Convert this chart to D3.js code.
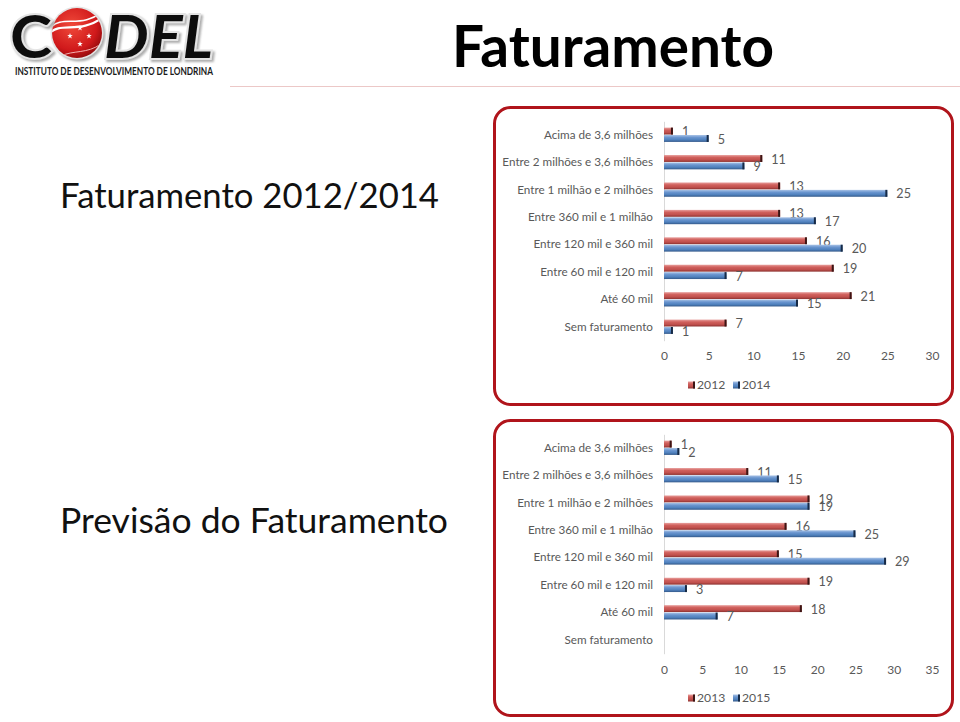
<!DOCTYPE html>
<html><head><meta charset="utf-8">
<script src="https://cdn.jsdelivr.net/npm/d3@7"></script>
<style>
html,body{margin:0;padding:0;background:#fff;}
svg{display:block;}
text{font-family:Lato,"Open Sans",sans-serif;}
</style></head>
<body>
<svg id="chart" width="960" height="722"></svg>
<script>
const categories = [
  "Acima de 3,6 milhões",
  "Entre 2 milhões e 3,6 milhões",
  "Entre 1 milhão e 2 milhões",
  "Entre 360 mil e 1 milhão",
  "Entre 120 mil e 360 mil",
  "Entre 60 mil e 120 mil",
  "Até 60 mil",
  "Sem faturamento"
];
const values2012 = [1, 11, 13, 13, 16, 19, 21, 7];
const values2014 = [5, 9, 25, 17, 20, 7, 15, 1];
const values2013 = [1, 11, 19, 16, 15, 19, 18, null];
const values2015 = [2, 15, 19, 25, 29, 3, 7, null];
const ticksTop = [0, 5, 10, 15, 20, 25, 30];
const ticksBottom = [0, 5, 10, 15, 20, 25, 30, 35];

const svg = d3.select("#chart");
const defs = svg.append("defs");

function grad(id, stops) {
  const g = defs.append("linearGradient").attr("id", id)
    .attr("x1", 0).attr("y1", 0).attr("x2", 0).attr("y2", 1);
  stops.forEach(s => g.append("stop").attr("offset", s[0]).attr("stop-color", s[1]));
}
grad("gRed", [[0, "#e8a09e"], [0.35, "#d0605c"], [0.7, "#c0504d"], [1, "#8c3230"]]);
grad("gBlue", [[0, "#a9c3e6"], [0.35, "#6a95cf"], [0.7, "#4f81bd"], [1, "#34598a"]]);
const rg = defs.append("radialGradient").attr("id", "gBall").attr("cx", 0.4).attr("cy", 0.35).attr("r", 0.7);
rg.append("stop").attr("offset", 0).attr("stop-color", "#f04a3a");
rg.append("stop").attr("offset", 0.7).attr("stop-color", "#d0191b");
rg.append("stop").attr("offset", 1).attr("stop-color", "#8e0a0c");
defs.append("clipPath").attr("id", "ballClip").append("circle").attr("cx", 77).attr("cy", 33).attr("r", 25);
const sh = defs.append("filter").attr("id", "shadow").attr("x", -0.2).attr("y", -0.2).attr("width", 1.4).attr("height", 1.4);
sh.append("feDropShadow").attr("dx", 2).attr("dy", 2).attr("stdDeviation", 1.2).attr("flood-color", "#999").attr("flood-opacity", 0.8);

// ---------- Logo ----------
const logo = svg.append("g");
logo.append("circle").attr("cx", 77).attr("cy", 33).attr("r", 26.5).attr("fill", "#e4e4e4").attr("filter", "url(#shadow)");
logo.append("circle").attr("cx", 77).attr("cy", 33).attr("r", 25).attr("fill", "url(#gBall)");
const wave = logo.append("g").attr("clip-path", "url(#ballClip)");
wave.append("path").attr("d", "M49,34 C61,20 79,36 105,16").attr("fill", "none").attr("stroke", "#fff").attr("stroke-width", 2.2);
wave.append("path").attr("d", "M50,28 C63,14 81,30 105,10").attr("fill", "none").attr("stroke", "#fff").attr("stroke-width", 1.6);
wave.append("path").attr("d", "M61,56 C73,50 87,54 101,44").attr("fill", "none").attr("stroke", "#f4b0b0").attr("stroke-width", 1);
const starPts = [[80, 28], [70, 36], [89, 36], [80, 44]];
const starSym = d3.symbol().type(d3.symbolStar).size(10);
logo.selectAll("path.star").data(starPts).join("path").attr("class", "star")
  .attr("d", starSym).attr("transform", d => `translate(${d[0]},${d[1]})`).attr("fill", "#fff");

function bigLetters(txt, x, w, italic) {
  logo.append("text").attr("x", x).attr("y", 58).text(txt)
    .attr("font-family", "'Liberation Sans',Arial,sans-serif").attr("font-weight", 700)
    .attr("font-style", italic ? "italic" : "normal")
    .attr("font-size", 60).attr("textLength", w).attr("lengthAdjust", "spacingAndGlyphs")
    .attr("fill", "#111").attr("stroke", "#e4e4e4").attr("stroke-width", 4)
    .attr("paint-order", "stroke").attr("filter", "url(#shadow)");
}
bigLetters("C", 10, 42, false);
bigLetters("DEL", 104, 109, true);
logo.append("text").attr("x", 15).attr("y", 75).text("INSTITUTO DE DESENVOLVIMENTO DE LONDRINA")
  .attr("font-family", "'Liberation Sans Narrow','Liberation Sans',Arial,sans-serif").attr("font-weight", 700)
  .attr("font-size", 10.5).attr("textLength", 198).attr("lengthAdjust", "spacingAndGlyphs").attr("fill", "#1a1a1a");

// ---------- Titles ----------
svg.append("line").attr("x1", 230).attr("x2", 960).attr("y1", 86.5).attr("y2", 86.5)
  .attr("stroke", "#ecc8c7").attr("stroke-width", 1);
svg.append("text").attr("x", 452).attr("y", 66.5).text("Faturamento")
  .attr("font-weight", 700).attr("font-size", 57).attr("fill", "#000")
  .attr("textLength", 322).attr("lengthAdjust", "spacingAndGlyphs");
svg.append("text").attr("x", 60).attr("y", 208).text("Faturamento 2012/2014")
  .attr("font-size", 35).attr("fill", "#111")
  .attr("textLength", 379).attr("lengthAdjust", "spacingAndGlyphs");
svg.append("text").attr("x", 60).attr("y", 533).text("Previsão do Faturamento")
  .attr("font-size", 35).attr("fill", "#111")
  .attr("textLength", 388).attr("lengthAdjust", "spacingAndGlyphs");

// ---------- Panels ----------
function panel(cfg) {
  const g = svg.append("g");
  g.append("rect").attr("x", cfg.box[0]).attr("y", cfg.box[1])
    .attr("width", cfg.box[2]).attr("height", cfg.box[3]).attr("rx", 16)
    .attr("fill", "#fff").attr("stroke", "#b0141b").attr("stroke-width", 3);

  const x = d3.scaleLinear().domain([0, cfg.ticks[cfg.ticks.length - 1]]).range([664, 932]);
  const y = d3.scaleBand().domain(categories).range([cfg.top, cfg.bottom])
    .paddingInner(0.46).paddingOuter(0.23);
  const sub = d3.scaleBand().domain([0, 1]).range([0, y.bandwidth()]);

  // category axis
  const yAxis = d3.axisLeft(y).tickSize(0).tickPadding(11);
  const ya = g.append("g").attr("transform", "translate(664,0)").call(yAxis);
  ya.select(".domain").attr("stroke", "#d9d9d9").attr("stroke-width", 1);
  ya.selectAll("text").attr("font-family", "Lato,sans-serif").attr("font-size", 11.7).attr("fill", "#595959");

  // value axis labels
  const xAxis = d3.axisBottom(x).tickValues(cfg.ticks).tickSize(0).tickPadding(0);
  const xa = g.append("g").attr("transform", `translate(0,${cfg.tickY})`).call(xAxis);
  xa.select(".domain").remove();
  xa.selectAll("text").attr("font-family", "Lato,sans-serif").attr("font-size", 12).attr("fill", "#595959").attr("dy", "0.35em");

  const series = [
    { vals: cfg.a, fill: "url(#gRed)", cap: "#3b1514" },
    { vals: cfg.b, fill: "url(#gBlue)", cap: "#172a45" }
  ];
  series.forEach((s, si) => {
    const data = categories.map((c, i) => ({ c, v: s.vals[i] })).filter(d => d.v != null);
    const bg = g.append("g");
    bg.selectAll("rect.bar").data(data).join("rect").attr("class", "bar")
      .attr("x", x(0)).attr("y", d => y(d.c) + sub(si))
      .attr("width", d => x(d.v) - x(0)).attr("height", sub.bandwidth() - 0.5)
      .attr("fill", s.fill);
    bg.selectAll("rect.cap").data(data).join("rect").attr("class", "cap")
      .attr("x", d => x(d.v) - 2).attr("y", d => y(d.c) + sub(si))
      .attr("width", 2).attr("height", sub.bandwidth() - 0.5)
      .attr("fill", s.cap);
    bg.selectAll("text").data(data).join("text")
      .attr("x", d => x(d.v) + 9).attr("y", d => y(d.c) + sub(si) + sub.bandwidth() / 2 + 0.5)
      .attr("dy", "0.35em").text(d => d.v)
      .attr("font-size", 12.6).attr("fill", "#595959");
  });

  // legend
  const lg = g.append("g").attr("transform", `translate(0,${cfg.legendY})`);
  const items = [[cfg.names[0], "url(#gRed)", "#3b1514", 688], [cfg.names[1], "url(#gBlue)", "#172a45", 733]];
  items.forEach(it => {
    lg.append("rect").attr("x", it[3]).attr("y", -3.5).attr("width", 7).attr("height", 7).attr("fill", it[1]);
    lg.append("rect").attr("x", it[3] + 5).attr("y", -3.5).attr("width", 2).attr("height", 7).attr("fill", it[2]);
    lg.append("text").attr("x", it[3] + 9).attr("y", 0).attr("dy", "0.35em").text(it[0])
      .attr("font-size", 12.2).attr("fill", "#595959");
  });
}

panel({ box: [494.5, 107.5, 458, 297], top: 121.3, bottom: 340.7, ticks: ticksTop, tickY: 356,
  a: values2012, b: values2014, names: ["2012", "2014"], legendY: 385 });
panel({ box: [494.5, 420.5, 458, 295], top: 434.3, bottom: 653.7, ticks: ticksBottom, tickY: 670,
  a: values2013, b: values2015, names: ["2013", "2015"], legendY: 698 });
</script>
</body></html>
